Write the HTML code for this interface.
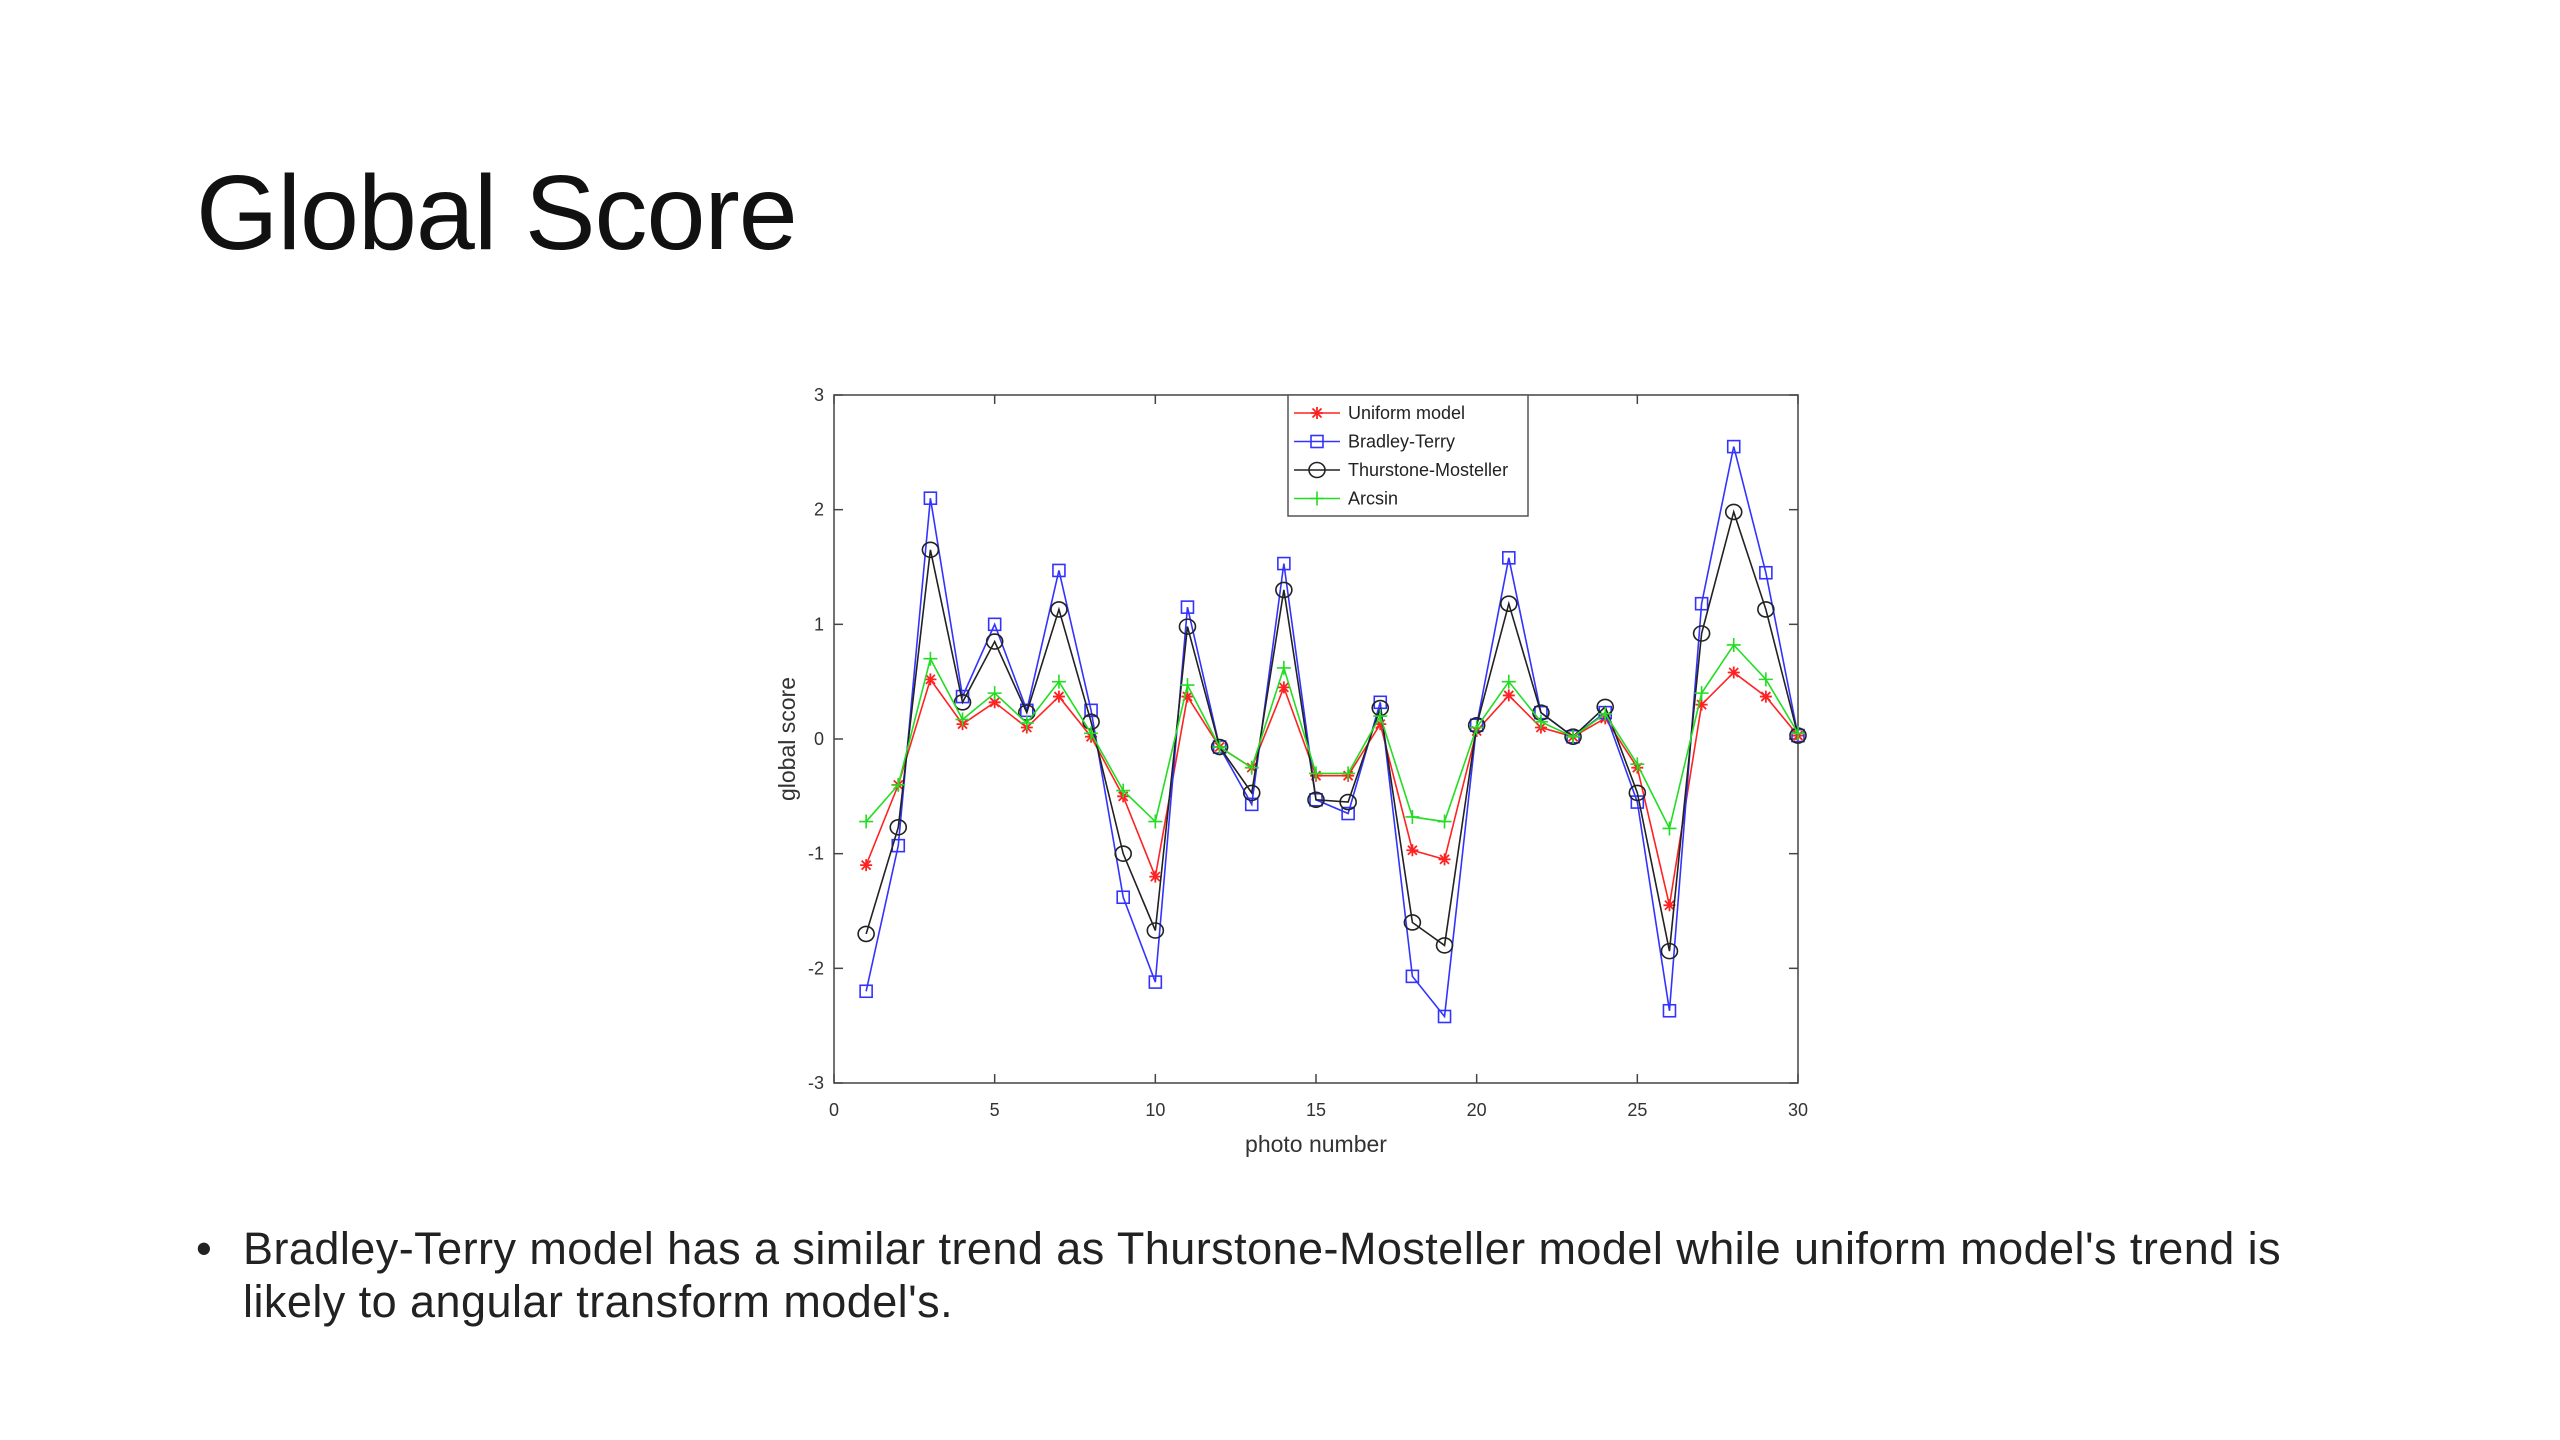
<!DOCTYPE html>
<html><head><meta charset="utf-8"><style>
html,body{margin:0;padding:0;background:#fff;}
body{width:2560px;height:1440px;position:relative;overflow:hidden;font-family:"Liberation Sans","Noto Sans CJK SC",sans-serif;}
#title{position:absolute;left:196px;top:160px;font-size:106px;font-weight:normal;color:#111;margin:0;line-height:1;letter-spacing:-1px;}
#bullet{position:absolute;left:196px;top:1222px;width:2200px;font-size:45px;line-height:53px;color:#222;}
#bullet .dot{position:absolute;left:0;top:0;}
#bullet .txt{position:absolute;left:47px;top:0;width:2095px;letter-spacing:0.45px;}
svg{position:absolute;left:0;top:0;}
</style></head><body>
<h1 id="title">Global Score</h1>
<div id="bullet"><span class="dot">•</span><span class="txt">Bradley-Terry model has a similar trend as Thurstone-Mosteller model while uniform model's trend is likely to angular transform model's.</span></div>
<svg id="chart" width="2560" height="1440"></svg>
<script>
const photoNumbers=[1,2,3,4,5,6,7,8,9,10,11,12,13,14,15,16,17,18,19,20,21,22,23,24,25,26,27,28,29,30];
const uniformScores=[-1.1,-0.4,0.52,0.13,0.32,0.1,0.37,0.02,-0.5,-1.2,0.37,-0.07,-0.25,0.45,-0.32,-0.32,0.13,-0.97,-1.05,0.07,0.38,0.1,0.02,0.18,-0.25,-1.45,0.3,0.58,0.37,0.03];
const bradleyTerryScores=[-2.2,-0.93,2.1,0.37,1.0,0.25,1.47,0.25,-1.38,-2.12,1.15,-0.07,-0.57,1.53,-0.53,-0.65,0.32,-2.07,-2.42,0.12,1.58,0.23,0.02,0.23,-0.55,-2.37,1.18,2.55,1.45,0.03];
const thurstoneScores=[-1.7,-0.77,1.65,0.32,0.85,0.23,1.13,0.15,-1.0,-1.67,0.98,-0.07,-0.47,1.3,-0.53,-0.55,0.27,-1.6,-1.8,0.12,1.18,0.23,0.02,0.28,-0.47,-1.85,0.92,1.98,1.13,0.03];
const arcsinScores=[-0.72,-0.4,0.7,0.17,0.4,0.14,0.5,0.05,-0.45,-0.72,0.47,-0.07,-0.25,0.62,-0.3,-0.3,0.2,-0.68,-0.72,0.1,0.5,0.15,0.02,0.22,-0.22,-0.78,0.4,0.82,0.52,0.05];
const xTicks=[0,5,10,15,20,25,30];
const yTicks=[-3,-2,-1,0,1,2,3];
const seriesNames=["Uniform model","Bradley-Terry","Thurstone-Mosteller","Arcsin"];

const NS="http://www.w3.org/2000/svg";
const svg=document.getElementById('chart');
const L=834,R=1798,T=395,B=1083;
const xs=v=>L+(v-0)/(30-0)*(R-L);
const ys=v=>B-(v+3)/6*(B-T);
function mk(tag,attrs,parent){const e=document.createElementNS(NS,tag);for(const k in attrs)e.setAttribute(k,attrs[k]);(parent||svg).appendChild(e);return e;}

const frame=mk('rect',{x:L,y:T,width:R-L,height:B-T,fill:'none',stroke:'#444','stroke-width':1.5});



xTicks.forEach(t=>{
  const x=xs(t);
  mk('line',{x1:x,y1:B,x2:x,y2:B-9,stroke:'#444','stroke-width':1.5});
  mk('line',{x1:x,y1:T,x2:x,y2:T+9,stroke:'#444','stroke-width':1.5});
  const tx=mk('text',{x:x,y:B+33,'font-size':18,'text-anchor':'middle',fill:'#333'});
  tx.textContent=t;
  
  
});
yTicks.forEach(t=>{
  const y=ys(t);
  mk('line',{x1:L,y1:y,x2:L+9,y2:y,stroke:'#444','stroke-width':1.5});
  mk('line',{x1:R,y1:y,x2:R-9,y2:y,stroke:'#444','stroke-width':1.5});
  const tx=mk('text',{x:L-10,y:y+6,'font-size':18,'text-anchor':'end',fill:'#333'});
  tx.textContent=t;
  
  
});
const xl=mk('text',{x:(L+R)/2,y:1152,'font-size':23,'text-anchor':'middle',fill:'#333'});
xl.textContent='photo number';


const yl=mk('text',{x:795,y:(T+B)/2,'font-size':23,'text-anchor':'middle',fill:'#333',transform:`rotate(-90 795 ${(T+B)/2})`});
yl.textContent='global score';



function marker(type,x,y,color,g){
  if(type==='star'){
    mk('path',{d:`M${x-6} ${y}H${x+6}M${x} ${y-6}V${y+6}M${x-4.5} ${y-4.5}L${x+4.5} ${y+4.5}M${x-4.5} ${y+4.5}L${x+4.5} ${y-4.5}`,stroke:color,'stroke-width':1.8,fill:'none'},g);
  }else if(type==='square'){
    mk('rect',{x:x-6,y:y-6,width:12,height:12,fill:'none',stroke:color,'stroke-width':1.6},g);
  }else if(type==='circle'){
    mk('ellipse',{cx:x,cy:y,rx:8,ry:7.5,fill:'none',stroke:color,'stroke-width':1.6},g);
  }else{
    mk('path',{d:`M${x-7} ${y}H${x+7}M${x} ${y-7}V${y+7}`,stroke:color,'stroke-width':1.6,fill:'none'},g);
  }
}
const series=[
  {vals:uniformScores,color:'#f22',m:'star',name:'uniform-series'},
  {vals:bradleyTerryScores,color:'#33f',m:'square',name:'bradley-terry-series'},
  {vals:thurstoneScores,color:'#222',m:'circle',name:'thurstone-mosteller-series'},
  {vals:arcsinScores,color:'#2d2',m:'plus',name:'arcsin-series'}
];
series.forEach(s=>{
  const g=mk('g',{});
  
  
  const pts=s.vals.map((v,i)=>xs(photoNumbers[i])+','+ys(v)).join(' ');
  const pl=mk('polyline',{points:pts,fill:'none',stroke:s.color,'stroke-width':1.6},g);
  
  
  s.vals.forEach((v,i)=>marker(s.m,xs(photoNumbers[i]),ys(v),s.color,g));
});

const lg=mk('g',{});


mk('rect',{x:1288,y:395,width:240,height:121,fill:'#fff',stroke:'#555','stroke-width':1.5},lg);
series.forEach((s,i)=>{
  const y=413+i*28.5;
  const e=mk('g',{},lg);
  
  
  mk('line',{x1:1294,y1:y,x2:1340,y2:y,stroke:s.color,'stroke-width':1.6},e);
  marker(s.m,1317,y,s.color,e);
  const t=mk('text',{x:1348,y:y+6,'font-size':18,fill:'#222'},e);
  t.textContent=seriesNames[i];
});
</script>
</body></html>
